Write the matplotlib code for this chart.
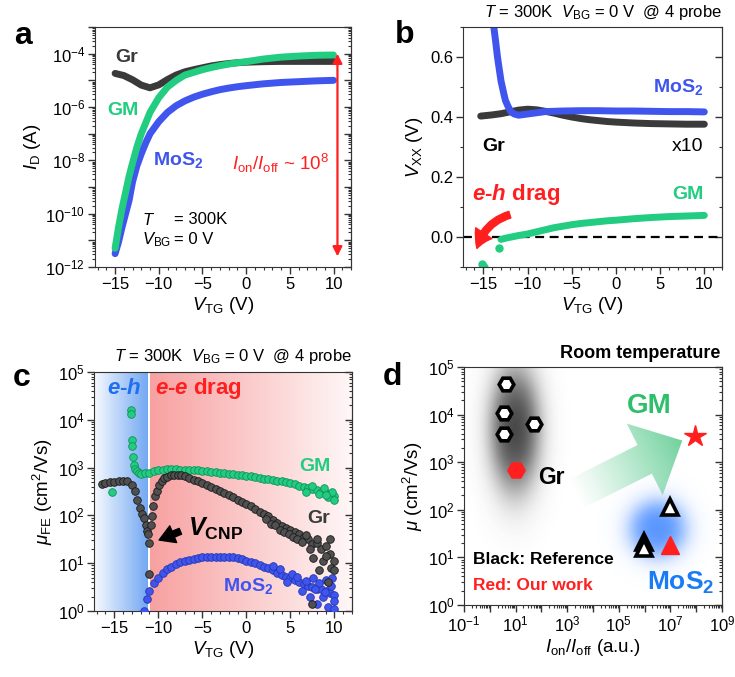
import numpy as np
import matplotlib.pyplot as plt
from matplotlib import ticker
from matplotlib.patches import FancyArrowPatch, Polygon

plt.rcParams['font.family'] = ['Liberation Sans', 'DejaVu Sans']
plt.rcParams['mathtext.fontset'] = 'custom'
plt.rcParams['mathtext.rm'] = 'Liberation Sans'
plt.rcParams['mathtext.it'] = 'Liberation Sans:italic'
plt.rcParams['mathtext.bf'] = 'Liberation Sans:bold'
plt.rcParams['mathtext.bfit'] = 'Liberation Sans:italic:bold'
plt.rcParams['axes.edgecolor'] = '#333333'
plt.rcParams['xtick.color'] = '#333333'
plt.rcParams['ytick.color'] = '#333333'
plt.rcParams['xtick.labelcolor'] = 'black'
plt.rcParams['ytick.labelcolor'] = 'black'

GR = '#3a3a3a'
GM = '#22cc80'
MOS = '#3f55ee'
RED = '#ff1f1f'

# ---- panel a : transfer curves, log10(I_D / A)
a_gr_v = [-15, -14, -13, -12, -11, -10, -9, -8, -7, -6, -5, -4, -3, -2, -1, 0, 2, 4, 6, 8, 10]
a_gr_log = [-4.74, -4.82, -4.98, -5.18, -5.28, -5.17, -4.97, -4.80, -4.68, -4.60, -4.53, -4.46,
            -4.41, -4.37, -4.34, -4.32, -4.30, -4.29, -4.29, -4.29, -4.29]
a_gm_v = [-15, -14.6, -14.2, -13.8, -13.4, -13.0, -12.5, -12.0, -11.5, -11.0, -10.0, -9.0, -8.0,
          -7.0, -6.0, -5.0, -4.0, -3.0, -2.0, -1.0, 0, 2, 4, 6, 8, 10]
a_gm_log = [-11.3, -10.5, -9.8, -9.2, -8.6, -8.1, -7.5, -7.0, -6.6, -6.2, -5.65, -5.25, -5.0,
            -4.80, -4.70, -4.60, -4.52, -4.45, -4.39, -4.34, -4.30, -4.20, -4.13, -4.09, -4.06, -4.05]
a_mos_v = a_gm_v
a_mos_log = [-11.5, -11.05, -10.5, -10.0, -9.5, -8.8, -8.2, -7.75, -7.35, -7.0, -6.55, -6.2, -5.95,
             -5.77, -5.63, -5.52, -5.43, -5.35, -5.29, -5.24, -5.20, -5.13, -5.08, -5.05, -5.02, -5.0]

# ---- panel b : V_xx (V)
b_mos_v = [-13.9, -13.6, -13.4, -13.2, -13.0, -12.7, -12.5, -12.2, -11.9, -11.5, -11.0, -10.5,
           -10.0, -9.0, -8.0, -6.0, -4.0, -2.0, 0, 2, 4, 6, 8, 10]
b_mos = [0.72, 0.65, 0.60, 0.56, 0.52, 0.48, 0.455, 0.435, 0.418, 0.410, 0.406, 0.408,
         0.410, 0.414, 0.418, 0.420, 0.421, 0.421, 0.420, 0.420, 0.419, 0.418, 0.418, 0.417]
b_gr_v = [-15.3, -14, -13, -12, -11, -10, -9, -8, -7, -6, -5, -4, -3, -2, -1, 0, 2, 4, 6, 8, 10]
b_gr = [0.403, 0.407, 0.411, 0.417, 0.423, 0.426, 0.424, 0.419, 0.413, 0.406, 0.400, 0.395,
        0.391, 0.388, 0.385, 0.383, 0.380, 0.378, 0.377, 0.376, 0.376]
b_gm_v = [-13.0, -12.5, -12.0, -11.0, -10.0, -9.0, -8.0, -7.0, -6.0, -5.0, -4.0, -3.0, -2.0,
          -1.0, 0, 2, 4, 6, 8, 10]
b_gm = [-0.008, -0.004, -0.001, 0.005, 0.010, 0.017, 0.024, 0.031, 0.036, 0.041, 0.045, 0.048,
        0.051, 0.054, 0.056, 0.061, 0.065, 0.068, 0.070, 0.072]
b_gm_iso_v = [-15.1, -15.0, -14.9, -13.2]
b_gm_iso = [-0.090, -0.095, -0.100, -0.036]

# ---- panel c : field-effect mobility, log10(mu / cm2/Vs)
c_gr_v = [-16.4, -16.0, -15.5, -15.0, -14.5, -14.0, -13.5, -13.0, -12.7, -12.4, -12.1, -11.85,
          -11.6, -11.4, -11.25, -11.15, -11.05, -11.0, -10.85, -10.7, -10.55, -10.35, -10.15,
          -9.9, -9.6, -9.3, -9.0, -8.6, -8.2, -7.8, -7.4, -7.0, -6.5, -6.0, -5.5, -5.0, -4.5,
          -4.0, -3.5, -3.0, -2.5, -2.0, -1.5, -1.0, -0.5, 0.0, 0.5, 1.0, 1.5, 2.0, 2.5, 3.0,
          3.5, 4.0, 4.5, 5.0, 5.5, 6.0, 6.5, 7.0, 7.5, 8.0, 8.5, 9.0, 9.5, 10.0]
c_gr_log = [2.66, 2.68, 2.69, 2.70, 2.72, 2.73, 2.71, 2.64, 2.52, 2.33, 2.15, 2.02,
            1.95, 1.80, 1.68, 1.62, 1.43, 0.77, 1.80, 1.98, 2.20, 2.40, 2.52,
            2.63, 2.72, 2.78, 2.81, 2.84, 2.85, 2.85, 2.84, 2.82, 2.79, 2.75, 2.71, 2.67, 2.63,
            2.59, 2.55, 2.51, 2.47, 2.42, 2.38, 2.33, 2.28, 2.24, 2.20, 2.14, 2.08, 2.02, 1.98, 1.90,
            1.85, 1.78, 1.74, 1.70, 1.66, 1.62, 1.55, 1.50, 1.40, 1.42, 1.30, 1.35, 1.20, 1.05]
c_gr_sc_v = [2.2, 2.8, 3.3, 3.8, 4.3, 4.8, 5.3, 5.8, 6.3, 6.8, 7.2, 7.6, 8.0, 8.3, 8.7, 9.0,
             9.3, 9.6, 9.9, 7.5, 9.5]
c_gr_sc_log = [1.93, 1.83, 1.80, 1.70, 1.66, 1.62, 1.55, 1.50, 1.45, 1.60, 1.30, 1.10, 1.50,
               0.85, 1.05, 1.15, 0.60, 0.90, 0.85, 0.14, 1.50]
c_gm_v = [-15.3, -13.1, -13.05, -13.0, -12.95, -12.9, -12.8, -12.6, -12.4, -12.2, -12.0, -11.5,
          -11.0, -10.5, -10.0, -9.5, -9.0, -8.5, -8.0, -7.5, -7.0, -6.5, -6.0, -5.5, -5.0, -4.5,
          -4.0, -3.5, -3.0, -2.5, -2.0, -1.5, -1.0, -0.5, 0, 0.5, 1, 1.5, 2, 2.5, 3, 3.5, 4,
          4.5, 5, 5.5, 6, 6.5, 7, 7.5, 8, 8.5, 9, 9.5, 10]
c_gm_log = [2.50, 4.20, 4.13, 3.57, 3.46, 3.22, 3.05, 2.97, 2.92, 2.88, 2.87, 2.88,
            2.89, 2.92, 2.94, 2.96, 2.97, 2.97, 2.97, 2.96, 2.95, 2.95, 2.94, 2.94, 2.93, 2.92,
            2.91, 2.90, 2.89, 2.88, 2.87, 2.86, 2.85, 2.84, 2.83, 2.82, 2.80, 2.79, 2.77, 2.76,
            2.74, 2.73, 2.71, 2.69, 2.67, 2.65, 2.62, 2.60, 2.58, 2.55, 2.53, 2.50, 2.47, 2.44, 2.40]
c_gm_sc_v = [6.8, 7.5, 8.2, 8.8, 9.3, 9.7, 10.0, 9.0]
c_gm_sc_log = [2.50, 2.62, 2.45, 2.57, 2.38, 2.50, 2.33, 2.42]
c_mos_v = [-11.6, -11.3, -11.0, -10.5, -10.0, -9.5, -9.0, -8.5, -8.0, -7.5, -7.0, -6.5, -6.0,
           -5.5, -5.0, -4.5, -4.0, -3.5, -3.0, -2.5, -2.0, -1.5, -1.0, -0.5, 0, 0.5, 1, 1.5, 2,
           2.5, 3, 3.5, 4, 4.5, 5, 5.5, 6, 6.5, 7, 7.5, 8, 8.5, 9, 9.5, 10]
c_mos_log = [0.0, 0.25, 0.42, 0.58, 0.70, 0.80, 0.87, 0.93, 0.98, 1.02, 1.05, 1.07, 1.09,
             1.11, 1.12, 1.13, 1.13, 1.14, 1.14, 1.13, 1.13, 1.12, 1.10, 1.08, 1.05, 1.03, 1.00,
             0.97, 0.93, 0.90, 0.86, 0.80, 0.76, 0.72, 0.68, 0.64, 0.60, 0.57, 0.53, 0.50, 0.47,
             0.45, 0.42, 0.38, 0.33]
c_mos_sc_v = [3.0, 3.8, 4.6, 5.2, 5.8, 6.3, 6.8, 7.2, 7.6, 8.0, 8.3, 8.7, 9.0, 9.3, 9.6, 9.9,
              10.0, 7.8, 8.9, 9.7]
c_mos_sc_log = [0.95, 0.88, 0.60, 0.78, 0.72, 0.42, 0.62, 0.30, 0.68, 0.15, 0.58, 0.30, 0.65,
                0.08, 0.52, 0.20, 0.05, 0.45, 0.40, 0.70]

# ---- panel d : benchmark
d_gr_ref_x = [4.1, 3.5, 3.5, 54]
d_gr_ref_y = [44700, 10700, 4000, 6500]
d_gr_our = (10.5, 690)
d_gm_our = (9.3e7, 3600)
d_mos_ref_x = [1.0e7, 9.3e5, 9.6e5]
d_mos_ref_y = [112, 21, 16]
d_mos_our = (9.5e6, 18)

XLIM_V = (-17.3, 12)
FIG_W, FIG_H = 735, 677

fig = plt.figure(figsize=(7.35, 6.77), dpi=100)


def add_ax(left, top, right, bottom):
    return fig.add_axes([left / FIG_W, 1 - bottom / FIG_H, (right - left) / FIG_W,
                         (bottom - top) / FIG_H])


def log_fmt(keep):
    def f(v, pos):
        e = int(round(np.log10(v)))
        return rf'$10^{{{e}}}$' if keep(e) else ''
    return ticker.FuncFormatter(f)


def style(ax, logy=False, keep=lambda e: True, ymaj=None, ymin=None):
    ax.tick_params(which='both', direction='out', top=False, right=False, labelsize=12, pad=2)
    ax.tick_params(which='major', length=5, width=1)
    ax.tick_params(which='minor', length=2.5, width=0.8)
    sec = ax.secondary_yaxis('right')
    sec.tick_params(which='both', direction='in', labelright=False)
    sec.tick_params(which='major', length=5, width=1)
    sec.tick_params(which='minor', length=2.5, width=0.8)
    for a in (ax.yaxis, sec.yaxis):
        if logy:
            a.set_major_locator(ticker.LogLocator(base=10, numticks=30))
            a.set_minor_locator(ticker.LogLocator(base=10, subs=np.arange(2, 10), numticks=30))
        else:
            a.set_major_locator(ticker.MultipleLocator(ymaj))
            a.set_minor_locator(ticker.MultipleLocator(ymin))
    if logy:
        ax.yaxis.set_major_formatter(log_fmt(keep))
    sec.yaxis.set_major_formatter(ticker.NullFormatter())


def vtg_axis(ax):
    ax.set_xlim(*XLIM_V)
    ax.xaxis.set_major_locator(ticker.MultipleLocator(5))
    ax.xaxis.set_minor_locator(ticker.MultipleLocator(1))
    ax.set_xlabel(r'$V_{\rm TG}$ (V)', fontsize=13.5, labelpad=2)


# ================= panel a =================
ax = add_ax(95, 27, 351, 267)
ax.set_yscale('log')
ax.plot(a_gr_v, 10 ** np.array(a_gr_log), color=GR, lw=5, solid_capstyle='round')
ax.plot(a_mos_v, 10 ** np.array(a_mos_log), color=MOS, lw=5, solid_capstyle='round')
ax.plot(a_gm_v, 10 ** np.array(a_gm_log), color=GM, lw=5, solid_capstyle='round')
ax.set_ylim(1e-12, 1e-3)
vtg_axis(ax)
style(ax, logy=True, keep=lambda e: e % 2 == 0)
ax.set_ylabel(r'$I_{\rm D}$ (A)', fontsize=13.5, labelpad=2)
ax.annotate('', xy=(10.45, 2.5e-12), xytext=(10.45, 1e-4),
            arrowprops=dict(arrowstyle='<|-|>', color=RED, lw=1.6, mutation_scale=14,
                            shrinkA=0, shrinkB=0))
ax.text(0.078, 0.871, 'Gr', transform=ax.transAxes, color=GR, fontsize=14,
        fontweight='bold', va='center')
ax.text(0.047, 0.654, 'GM', transform=ax.transAxes, color=GM, fontsize=14,
        fontweight='bold', va='center')
ax.text(0.227, 0.446, r'MoS$_{\mathbf{2}}$', transform=ax.transAxes, color=MOS, fontsize=14,
        fontweight='bold', va='center')
ax.text(0.535, 0.433, r'$I_{\rm on}/I_{\rm off}$ ~ 10$^{8}$', transform=ax.transAxes, color=RED,
        fontsize=13.5, va='center')
ax.text(0.184, 0.196, r'$T$', transform=ax.transAxes, fontsize=12, va='center')
ax.text(0.31, 0.196, '= 300K', transform=ax.transAxes, fontsize=12, va='center')
ax.text(0.184, 0.113, r'$V_{\rm BG}$', transform=ax.transAxes, fontsize=12, va='center')
ax.text(0.31, 0.113, '= 0 V', transform=ax.transAxes, fontsize=12, va='center')

# ================= panel b =================
ax = add_ax(463, 27, 722, 267)
ax.axhline(0, color='black', lw=1.6, ls=(0, (4, 2.5)), zorder=1)
ax.plot(b_gr_v, b_gr, color=GR, lw=5, solid_capstyle='round')
ax.plot(b_mos_v, b_mos, color=MOS, lw=5, solid_capstyle='round')
ax.plot(b_gm_v, b_gm, color=GM, lw=5, solid_capstyle='round')
ax.plot(b_gm_iso_v, b_gm_iso, 'o', color=GM, ms=5)
ax.set_ylim(-0.1, 0.7)
vtg_axis(ax)
style(ax, ymaj=0.2, ymin=0.1)
ax.yaxis.set_major_formatter(ticker.FormatStrFormatter('%.1f'))
ax.set_ylabel(r'$V_{\rm XX}$ (V)', fontsize=13.5, labelpad=4)
ax.text(0.927, 0.75, r'MoS$_{\mathbf{2}}$', transform=ax.transAxes, color=MOS, fontsize=14,
        fontweight='bold', va='center', ha='right')
ax.text(0.073, 0.504, 'Gr', transform=ax.transAxes, color='black', fontsize=14,
        fontweight='bold', va='center')
ax.text(0.927, 0.504, 'x10', transform=ax.transAxes, color='black', fontsize=14,
        va='center', ha='right')
ax.text(0.927, 0.304, 'GM', transform=ax.transAxes, color=GM, fontsize=14,
        fontweight='bold', va='center', ha='right')
ax.text(0.035, 0.304, r'$\mathbfit{e}$-$\mathbfit{h}$ drag', transform=ax.transAxes, color=RED,
        fontsize=16, fontweight='bold', va='center')
ax.add_patch(FancyArrowPatch((-11.7, 0.077), (-15.8, -0.047),
                             connectionstyle='arc3,rad=0.3',
                             arrowstyle='simple,head_width=1.4,head_length=1.2,tail_width=0.5',
                             mutation_scale=10, color=RED, zorder=5))
fig.text(722 / FIG_W, 1 - 13 / FIG_H, r'$T$ = 300K  $V_{\rm BG}$ = 0 V  @ 4 probe',
         ha='right', va='center', fontsize=12)

# ================= panel c =================
ax = add_ax(94, 372, 352, 611)
ax.set_yscale('log')
span = XLIM_V[1] - XLIM_V[0]
f_blue = (-11.25 - XLIM_V[0]) / span
f_red = (-10.95 - XLIM_V[0]) / span


def hgrad(ax, f0, f1, c0, c1):
    ramp = np.linspace(0, 1, 256)[:, None]
    rgb = np.array(c0)[None, :] * (1 - ramp) + np.array(c1)[None, :] * ramp
    ax.imshow(rgb[None, :, :], extent=(f0, f1, 0, 1), transform=ax.transAxes, aspect='auto',
              zorder=0, interpolation='bilinear')


hgrad(ax, 0, f_blue, (0.97, 0.98, 1.0), (0.45, 0.66, 0.95))
hgrad(ax, f_red, 1, (0.97, 0.63, 0.63), (1.0, 0.97, 0.97))
mk = dict(ls='none', marker='o', ms=5.5, mew=0.6, zorder=3)
ax.plot(c_mos_v, 10 ** np.array(c_mos_log), color=MOS, mec='#2436b0', **mk)
ax.plot(c_mos_sc_v, 10 ** np.array(c_mos_sc_log), color=MOS, mec='#2436b0', **mk)
ax.plot(c_gm_v, 10 ** np.array(c_gm_log), color=GM, mec='#12905a', **mk)
ax.plot(c_gm_sc_v, 10 ** np.array(c_gm_sc_log), color=GM, mec='#12905a', **mk)
ax.plot(c_gr_v, 10 ** np.array(c_gr_log), color='#505050', mec='#1a1a1a', **mk)
ax.plot(c_gr_sc_v, 10 ** np.array(c_gr_sc_log), color='#505050', mec='#1a1a1a', **mk)
ax.set_ylim(1, 1e5)
vtg_axis(ax)
style(ax, logy=True)
ax.set_ylabel(r'$\mu_{\rm FE}$ (cm$^2$/Vs)', fontsize=13.5, labelpad=2)
ax.text(0.05, 0.929, r'$\mathbfit{e}$-$\mathbfit{h}$', transform=ax.transAxes, color='#1f6ff0',
        fontsize=16, fontweight='bold', va='center')
ax.text(0.236, 0.929, r'$\mathbfit{e}$-$\mathbfit{e}$ drag', transform=ax.transAxes, color=RED,
        fontsize=16, fontweight='bold', va='center')
ax.text(0.915, 0.603, 'GM', transform=ax.transAxes, color=GM, fontsize=14,
        fontweight='bold', va='center', ha='right')
ax.text(0.915, 0.389, 'Gr', transform=ax.transAxes, color=GR, fontsize=14,
        fontweight='bold', va='center', ha='right')
ax.text(0.5, 0.105, r'MoS$_{\mathbf{2}}$', transform=ax.transAxes, color=MOS, fontsize=14,
        fontweight='bold', va='center')
ax.text(0.364, 0.343, r'$\mathbfit{V}_{\mathbf{CNP}}$', transform=ax.transAxes, color='black',
        fontsize=18, va='center')
ax.add_patch(FancyArrowPatch((-7.2, 49), (-10.2, 29),
                             arrowstyle='simple,head_width=1.3,head_length=1.1,tail_width=0.45',
                             mutation_scale=10, color='black', zorder=5))
fig.text(352 / FIG_W, 1 - 357 / FIG_H, r'$T$ = 300K  $V_{\rm BG}$ = 0 V  @ 4 probe',
         ha='right', va='center', fontsize=12)

# ================= panel d =================
ax = add_ax(464, 367, 722, 605)
ax.set_xscale('log')
ax.set_yscale('log')
W, H = 258.0, 238.0


def blob(ax, cx, cy, rx, ry, rgb, amax, soft):
    n = 300
    X, Y = np.meshgrid(np.linspace(0, 1, n), np.linspace(0, 1, n))
    r = np.hypot((X - cx) / rx, (Y - cy) / ry)
    img = np.zeros((n, n, 4))
    img[..., :3] = rgb
    img[..., 3] = amax / (1 + np.exp((r - 1) / soft))
    ax.imshow(img, extent=(0, 1, 0, 1), origin='lower', transform=ax.transAxes,
              aspect='auto', zorder=0, interpolation='bilinear')


blob(ax, 0.196, 0.74, 0.085, 0.23, (0.22, 0.22, 0.22), 0.95, 0.28)
blob(ax, 0.749, 0.32, 0.10, 0.11, (0.30, 0.56, 1.0), 0.95, 0.25)

# gradient block arrow (axes fraction, built in pixel space)
tail = np.array([0.43 * W, 0.465 * H])
tip = np.array([0.846 * W, 0.691 * H])
u = (tip - tail) / np.linalg.norm(tip - tail)
nrm = np.array([-u[1], u[0]])
base = tip - u * 42
bw, hw = 16, 40
pts = [tail + nrm * bw, base + nrm * bw, base + nrm * hw, tip, base - nrm * hw,
       base - nrm * bw, tail - nrm * bw]
pts = np.array(pts) / np.array([W, H])
arrow = Polygon(pts, closed=True, transform=ax.transAxes, facecolor='none', edgecolor='none')
ax.add_patch(arrow)
n = 300
X, Y = np.meshgrid(np.linspace(0, 1, n), np.linspace(0, 1, n))
proj = ((X * W - tail[0]) * u[0] + (Y * H - tail[1]) * u[1]) / np.linalg.norm(tip - tail)
proj = np.clip(proj, 0, 1)
gimg = np.zeros((n, n, 4))
gimg[..., :3] = (0.30, 0.78, 0.52)
gimg[..., 3] = 0.8 * proj ** 1.1
im = ax.imshow(gimg, extent=(0, 1, 0, 1), origin='lower', transform=ax.transAxes,
               aspect='auto', zorder=1, interpolation='bilinear')
im.set_clip_path(arrow)

ax.plot(d_gr_ref_x, d_gr_ref_y, ls='none', marker='H', ms=10.5, mfc='white', mec='black',
        mew=2.6, zorder=4)
ax.plot(*d_gr_our, ls='none', marker='H', ms=12.5, color=RED, zorder=4)
ax.plot(*d_gm_our, ls='none', marker='*', ms=16, color=RED, zorder=4)
ax.plot(d_mos_ref_x, d_mos_ref_y, ls='none', marker='^', ms=11, mfc='white', mec='black',
        mew=2.6, zorder=4)
ax.plot(*d_mos_our, ls='none', marker='^', ms=12.5, color=RED, zorder=4)
ax.set_xlim(1e-1, 1e9)
ax.set_ylim(1, 1e5)
style(ax, logy=True)
ax.xaxis.set_major_locator(ticker.LogLocator(base=10, numticks=30))
ax.xaxis.set_minor_locator(ticker.LogLocator(base=10, subs=np.arange(2, 10), numticks=30))
ax.xaxis.set_major_formatter(log_fmt(lambda e: e % 2 != 0))
ax.set_xlabel(r'$I_{\rm on}/I_{\rm off}$ (a.u.)', fontsize=13.5, labelpad=2)
ax.set_ylabel(r'$\mu$ (cm$^2$/Vs)', fontsize=13.5, labelpad=2)
ax.text(0.632, 0.836, 'GM', transform=ax.transAxes, color='#2fbf6a', fontsize=20,
        fontweight='bold', va='center')
ax.text(0.287, 0.534, 'Gr', transform=ax.transAxes, color='black', fontsize=16.5,
        fontweight='bold', va='center')
ax.text(0.035, 0.193, 'Black: Reference', transform=ax.transAxes, color='black', fontsize=12.5,
        fontweight='bold', va='center')
ax.text(0.035, 0.08, 'Red: Our work', transform=ax.transAxes, color=RED, fontsize=12.5,
        fontweight='bold', va='center')
ax.text(0.709, 0.092, r'MoS$_{\mathbf{2}}$', transform=ax.transAxes, color='#1a7cf5',
        fontsize=19, fontweight='bold', va='center')
fig.text(720 / FIG_W, 1 - 353 / FIG_H, 'Room temperature', ha='right', va='center',
         fontsize=13, fontweight='bold')

# panel letters
for lab, px, py in [('a', 23, 36), ('b', 405, 35), ('c', 22, 378), ('d', 392, 377)]:
    fig.text(px / FIG_W, 1 - py / FIG_H, lab, ha='center', va='center', fontsize=23,
             fontweight='bold')

fig.savefig('out.png', dpi=100)
